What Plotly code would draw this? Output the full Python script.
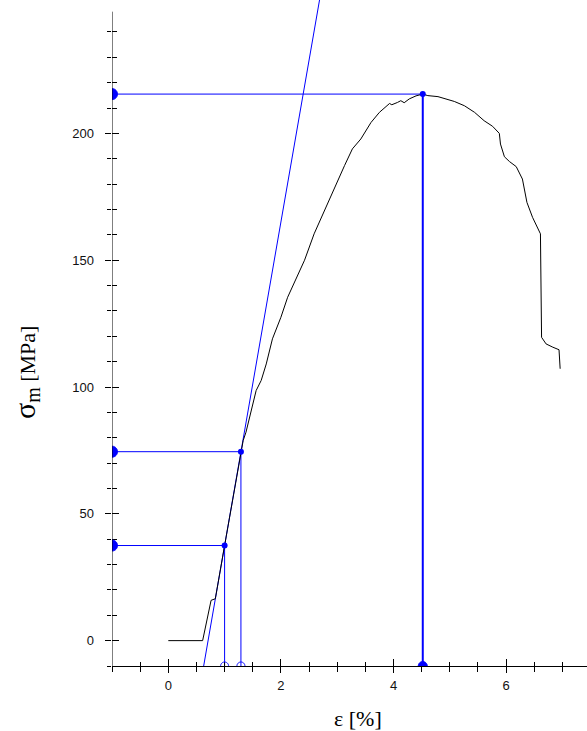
import numpy as np
import plotly.graph_objects as go

# ---- data ----
curve_strain = [0, 0.61, 0.76, 0.835, 1.0, 1.29, 1.33, 1.38, 1.47, 1.56, 1.65, 1.74, 1.85, 2.0,
                2.12, 2.30, 2.42, 2.59, 2.77, 2.95, 3.13, 3.27, 3.42, 3.60, 3.75, 3.93, 3.97,
                4.07, 4.13, 4.19, 4.28, 4.40, 4.52, 4.61, 4.79, 5.08, 5.26, 5.44, 5.61, 5.76,
                5.88, 5.90, 5.97, 6.06, 6.18, 6.29, 6.35, 6.37, 6.47, 6.61, 6.63, 6.71, 6.83,
                6.94, 6.96]
curve_stress = [0, 0, 15.9, 16.5, 37.5, 74.5, 78.9, 82.2, 90.7, 98.6, 102.6, 109.1, 119.0, 127.5,
                135.4, 144.6, 150.0, 160.4, 169.5, 178.7, 187.3, 193.9, 197.8, 204.3, 208.3, 211.8, 211.3,
                212.2, 212.9, 212.1, 213.6, 214.8, 215.5, 214.9, 214.5, 212.6, 210.9, 208.3, 205.0, 202.8,
                200.0, 195.8, 190.8, 188.9, 186.9, 182.0, 176.1, 172.8, 166.9, 160.4, 119.6, 117.0, 115.7,
                114.7, 107.2]

tangent_strain = [0.628, 2.76]
tangent_stress = [-10, 262]

point_strain = [1.0, 1.29, 4.52]
point_stress = [37.5, 74.5, 215.5]

x_range = [-1, 7.437]
y_range = [-10, 252.6]
y_axis_top = 248

x_tick_vals = [0, 2, 4, 6]
x_tick_text = ["0", "2", "4", "6"]
x_minor_vals = [-1, -0.5, 0.5, 1, 1.5, 2.5, 3, 3.5, 4.5, 5, 5.5, 6.5, 7]
y_tick_vals = [0, 50, 100, 150, 200]
y_tick_text = ["0", "50", "100", "150", "200"]
y_minor_vals = [-10, 10, 20, 30, 40, 60, 70, 80, 90, 110, 120, 130, 140, 160, 170, 180, 190, 210, 220, 230, 240]

BLUE = "#0000FF"
fig = go.Figure()

# tangent (modulus) line
fig.add_trace(go.Scatter(x=tangent_strain, y=tangent_stress, mode="lines",
                         line=dict(color=BLUE, width=1)))

# projection lines: horizontal to the stress axis, vertical to the strain axis
for i, (sx, sy) in enumerate(zip(point_strain, point_stress)):
    fig.add_trace(go.Scatter(x=[x_range[0], sx], y=[sy, sy], mode="lines",
                             line=dict(color=BLUE, width=1)))
    fig.add_trace(go.Scatter(x=[sx, sx], y=[sy, y_range[0]], mode="lines",
                             line=dict(color=BLUE, width=2 if i == 2 else 1)))

# measured curve
fig.add_trace(go.Scatter(x=curve_strain, y=curve_stress, mode="lines",
                         line=dict(color="black", width=1)))

# markers at intersections
fig.add_trace(go.Scatter(x=point_strain, y=point_stress, mode="markers",
                         marker=dict(color=BLUE, size=6)))

# invisible trace for overlay axes
fig.add_trace(go.Scatter(x=[x_range[0]], y=[y_range[0]], xaxis="x2", yaxis="y2",
                         mode="markers", marker=dict(opacity=0), hoverinfo="skip"))


def arc_path(r, a0, a1, closed, n=24):
    t = np.radians(np.linspace(a0, a1, n))
    xs = r * np.cos(t)
    ys = r * np.sin(t)
    p = "M %.2f %.2f " % (xs[0], ys[0]) + " ".join("L %.2f %.2f" % (a, b) for a, b in zip(xs[1:], ys[1:]))
    return p + (" Z" if closed else "")


# half discs on the stress axis
for sy in point_stress:
    fig.add_shape(type="path", xref="x", yref="y", xsizemode="pixel", ysizemode="pixel",
                  xanchor=x_range[0], yanchor=sy, path=arc_path(5.5, -90, 90, True),
                  fillcolor=BLUE, line=dict(color=BLUE, width=1), layer="above")
# open half circles on the strain axis
for sx in point_strain[:2]:
    fig.add_shape(type="path", xref="x", yref="y", xsizemode="pixel", ysizemode="pixel",
                  xanchor=sx, yanchor=y_range[0], path=arc_path(4, 0, 180, False),
                  fillcolor="rgba(0,0,0,0)", line=dict(color=BLUE, width=1), layer="above")
# filled half disc on the strain axis at the maximum
fig.add_shape(type="path", xref="x", yref="y", xsizemode="pixel", ysizemode="pixel",
              xanchor=point_strain[2], yanchor=y_range[0], path=arc_path(4.5, 0, 180, True),
              fillcolor=BLUE, line=dict(color=BLUE, width=1), layer="above")

tickfont = dict(family="Liberation Sans, Arial", size=13, color="#111")
fig.update_layout(
    width=587, height=731,
    margin=dict(l=112, r=0, t=0, b=65),
    plot_bgcolor="white", paper_bgcolor="white",
    showlegend=False,
    xaxis=dict(range=x_range, tickmode="array", tickvals=x_tick_vals, ticktext=x_tick_text,
               ticks="outside", ticklen=6, tickwidth=1, tickcolor="black",
               minor=dict(tickmode="array", tickvals=x_minor_vals, ticks="outside", ticklen=4.5,
                          tickwidth=1, tickcolor="black", showgrid=False),
               showline=True, linecolor="black", linewidth=1, showgrid=False, zeroline=False,
               tickfont=tickfont, ticklabelstandoff=1),
    xaxis2=dict(range=x_range, overlaying="x", anchor="y", side="bottom",
                tickmode="array", tickvals=x_tick_vals, ticks="inside", ticklen=7, tickwidth=1,
                tickcolor="black",
                minor=dict(tickmode="array", tickvals=x_minor_vals, ticks="inside", ticklen=4.5,
                           tickwidth=1, tickcolor="black", showgrid=False),
                showticklabels=False, showline=False, showgrid=False, zeroline=False),
    yaxis=dict(range=y_range, tickmode="array", tickvals=y_tick_vals, ticktext=y_tick_text,
               ticks="outside", ticklen=6.5, tickwidth=1, tickcolor="black",
               minor=dict(tickmode="array", tickvals=y_minor_vals, ticks="outside", ticklen=4.5,
                          tickwidth=1, tickcolor="black", showgrid=False),
               showline=False, showgrid=False, zeroline=False,
               tickfont=tickfont, ticklabelstandoff=8),
    yaxis2=dict(range=y_range, overlaying="y", anchor="x", side="left",
                tickmode="array", tickvals=y_tick_vals, ticks="inside", ticklen=6.5, tickwidth=1,
                tickcolor="black",
                minor=dict(tickmode="array", tickvals=y_minor_vals, ticks="inside", ticklen=4.5,
                           tickwidth=1, tickcolor="black", showgrid=False),
                showticklabels=False, showline=False, showgrid=False, zeroline=False),
)

# y axis line (ends below the top of the plot area)
fig.add_shape(type="line", xref="x", yref="y", x0=x_range[0], x1=x_range[0],
              y0=y_range[0], y1=y_axis_top, line=dict(color="black", width=1), layer="above")

serif = "Liberation Serif, Times New Roman, serif"
fig.add_annotation(xref="paper", yref="paper", x=(358 - 112) / 475, y=-52 / 666,
                   text="ε [%]", showarrow=False, xanchor="center", yanchor="middle",
                   font=dict(family=serif, size=22, color="black"))
fig.add_annotation(xref="paper", yref="paper", x=(26 - 112) / 475, y=(666 - 373) / 666,
                   text="<span style='font-size:30px'>σ</span><sub><span style='font-size:20px'>m</span></sub> [MPa]",
                   textangle=-90, showarrow=False, xanchor="center", yanchor="middle",
                   font=dict(family=serif, size=22, color="black"))

fig.write_html("out.html")
